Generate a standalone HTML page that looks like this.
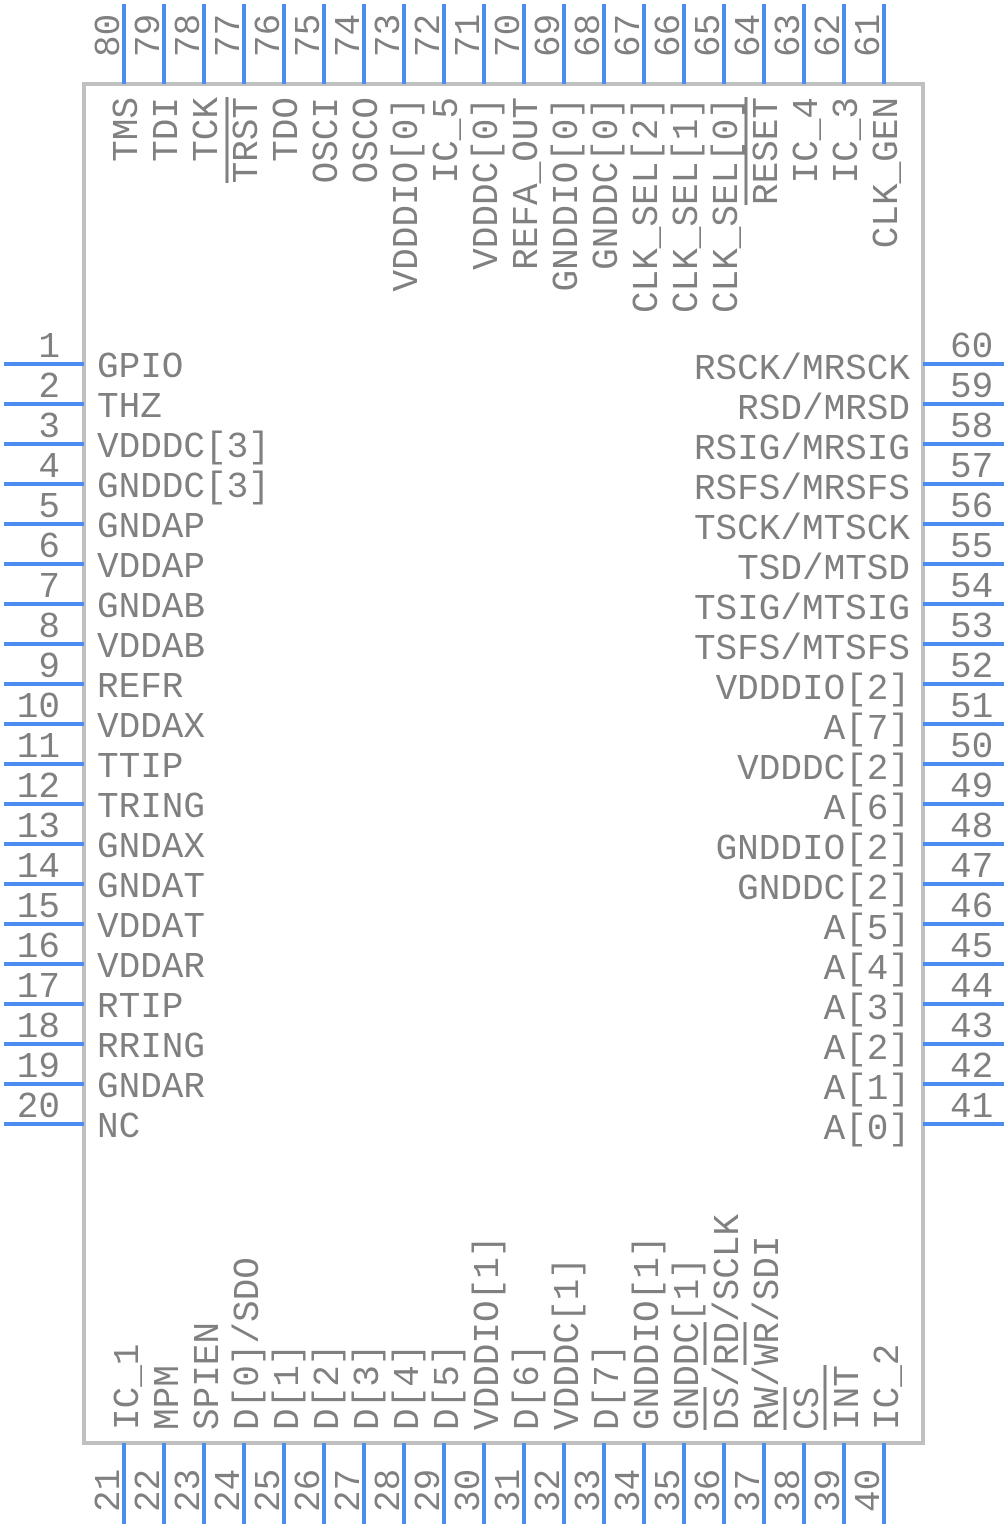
<!DOCTYPE html>
<html><head><meta charset="utf-8"><style>
html,body{margin:0;padding:0;background:#fff}
svg{display:block}
text{font-family:"Liberation Mono",monospace;font-size:36px;fill:#808080}
.p{stroke:#4a8cf0;stroke-width:4}
.ob{stroke:#808080;stroke-width:3}
</style></head><body>
<svg width="1008" height="1528" viewBox="0 0 1008 1528" xmlns="http://www.w3.org/2000/svg">
<rect x="84" y="84" width="839" height="1359" fill="none" stroke="#c0c0c0" stroke-width="4"/>
<g class="p">
<line x1="4" y1="364" x2="84" y2="364"/><line x1="4" y1="404" x2="84" y2="404"/><line x1="4" y1="444" x2="84" y2="444"/><line x1="4" y1="484" x2="84" y2="484"/><line x1="4" y1="524" x2="84" y2="524"/><line x1="4" y1="564" x2="84" y2="564"/><line x1="4" y1="604" x2="84" y2="604"/><line x1="4" y1="644" x2="84" y2="644"/><line x1="4" y1="684" x2="84" y2="684"/><line x1="4" y1="724" x2="84" y2="724"/><line x1="4" y1="764" x2="84" y2="764"/><line x1="4" y1="804" x2="84" y2="804"/><line x1="4" y1="844" x2="84" y2="844"/><line x1="4" y1="884" x2="84" y2="884"/><line x1="4" y1="924" x2="84" y2="924"/><line x1="4" y1="964" x2="84" y2="964"/><line x1="4" y1="1004" x2="84" y2="1004"/><line x1="4" y1="1044" x2="84" y2="1044"/><line x1="4" y1="1084" x2="84" y2="1084"/><line x1="4" y1="1124" x2="84" y2="1124"/>
<line x1="923" y1="364" x2="1004" y2="364"/><line x1="923" y1="404" x2="1004" y2="404"/><line x1="923" y1="444" x2="1004" y2="444"/><line x1="923" y1="484" x2="1004" y2="484"/><line x1="923" y1="524" x2="1004" y2="524"/><line x1="923" y1="564" x2="1004" y2="564"/><line x1="923" y1="604" x2="1004" y2="604"/><line x1="923" y1="644" x2="1004" y2="644"/><line x1="923" y1="684" x2="1004" y2="684"/><line x1="923" y1="724" x2="1004" y2="724"/><line x1="923" y1="764" x2="1004" y2="764"/><line x1="923" y1="804" x2="1004" y2="804"/><line x1="923" y1="844" x2="1004" y2="844"/><line x1="923" y1="884" x2="1004" y2="884"/><line x1="923" y1="924" x2="1004" y2="924"/><line x1="923" y1="964" x2="1004" y2="964"/><line x1="923" y1="1004" x2="1004" y2="1004"/><line x1="923" y1="1044" x2="1004" y2="1044"/><line x1="923" y1="1084" x2="1004" y2="1084"/><line x1="923" y1="1124" x2="1004" y2="1124"/>
<line x1="124" y1="4" x2="124" y2="84"/><line x1="164" y1="4" x2="164" y2="84"/><line x1="204" y1="4" x2="204" y2="84"/><line x1="244" y1="4" x2="244" y2="84"/><line x1="284" y1="4" x2="284" y2="84"/><line x1="324" y1="4" x2="324" y2="84"/><line x1="364" y1="4" x2="364" y2="84"/><line x1="404" y1="4" x2="404" y2="84"/><line x1="444" y1="4" x2="444" y2="84"/><line x1="484" y1="4" x2="484" y2="84"/><line x1="524" y1="4" x2="524" y2="84"/><line x1="564" y1="4" x2="564" y2="84"/><line x1="604" y1="4" x2="604" y2="84"/><line x1="644" y1="4" x2="644" y2="84"/><line x1="684" y1="4" x2="684" y2="84"/><line x1="724" y1="4" x2="724" y2="84"/><line x1="764" y1="4" x2="764" y2="84"/><line x1="804" y1="4" x2="804" y2="84"/><line x1="844" y1="4" x2="844" y2="84"/><line x1="884" y1="4" x2="884" y2="84"/>
<line x1="124" y1="1443" x2="124" y2="1524"/><line x1="164" y1="1443" x2="164" y2="1524"/><line x1="204" y1="1443" x2="204" y2="1524"/><line x1="244" y1="1443" x2="244" y2="1524"/><line x1="284" y1="1443" x2="284" y2="1524"/><line x1="324" y1="1443" x2="324" y2="1524"/><line x1="364" y1="1443" x2="364" y2="1524"/><line x1="404" y1="1443" x2="404" y2="1524"/><line x1="444" y1="1443" x2="444" y2="1524"/><line x1="484" y1="1443" x2="484" y2="1524"/><line x1="524" y1="1443" x2="524" y2="1524"/><line x1="564" y1="1443" x2="564" y2="1524"/><line x1="604" y1="1443" x2="604" y2="1524"/><line x1="644" y1="1443" x2="644" y2="1524"/><line x1="684" y1="1443" x2="684" y2="1524"/><line x1="724" y1="1443" x2="724" y2="1524"/><line x1="764" y1="1443" x2="764" y2="1524"/><line x1="804" y1="1443" x2="804" y2="1524"/><line x1="844" y1="1443" x2="844" y2="1524"/><line x1="884" y1="1443" x2="884" y2="1524"/>
</g>
<g text-anchor="end">
<text x="60" y="357">1</text><text x="60" y="397">2</text><text x="60" y="437">3</text><text x="60" y="477">4</text><text x="60" y="517">5</text><text x="60" y="557">6</text><text x="60" y="597">7</text><text x="60" y="637">8</text><text x="60" y="677">9</text><text x="60" y="717">10</text><text x="60" y="757">11</text><text x="60" y="797">12</text><text x="60" y="837">13</text><text x="60" y="877">14</text><text x="60" y="917">15</text><text x="60" y="957">16</text><text x="60" y="997">17</text><text x="60" y="1037">18</text><text x="60" y="1077">19</text><text x="60" y="1117">20</text>
</g>
<g>
<text x="97" y="377">GPIO</text><text x="97" y="417">THZ</text><text x="97" y="457">VDDDC[3]</text><text x="97" y="497">GNDDC[3]</text><text x="97" y="537">GNDAP</text><text x="97" y="577">VDDAP</text><text x="97" y="617">GNDAB</text><text x="97" y="657">VDDAB</text><text x="97" y="697">REFR</text><text x="97" y="737">VDDAX</text><text x="97" y="777">TTIP</text><text x="97" y="817">TRING</text><text x="97" y="857">GNDAX</text><text x="97" y="897">GNDAT</text><text x="97" y="937">VDDAT</text><text x="97" y="977">VDDAR</text><text x="97" y="1017">RTIP</text><text x="97" y="1057">RRING</text><text x="97" y="1097">GNDAR</text><text x="97" y="1137">NC</text>
</g>
<g>
<text x="950" y="357">60</text><text x="950" y="397">59</text><text x="950" y="437">58</text><text x="950" y="477">57</text><text x="950" y="517">56</text><text x="950" y="557">55</text><text x="950" y="597">54</text><text x="950" y="637">53</text><text x="950" y="677">52</text><text x="950" y="717">51</text><text x="950" y="757">50</text><text x="950" y="797">49</text><text x="950" y="837">48</text><text x="950" y="877">47</text><text x="950" y="917">46</text><text x="950" y="957">45</text><text x="950" y="997">44</text><text x="950" y="1037">43</text><text x="950" y="1077">42</text><text x="950" y="1117">41</text>
</g>
<g text-anchor="end">
<text x="910" y="379">RSCK/MRSCK</text><text x="910" y="419">RSD/MRSD</text><text x="910" y="459">RSIG/MRSIG</text><text x="910" y="499">RSFS/MRSFS</text><text x="910" y="539">TSCK/MTSCK</text><text x="910" y="579">TSD/MTSD</text><text x="910" y="619">TSIG/MTSIG</text><text x="910" y="659">TSFS/MTSFS</text><text x="910" y="699">VDDDIO[2]</text><text x="910" y="739">A[7]</text><text x="910" y="779">VDDDC[2]</text><text x="910" y="819">A[6]</text><text x="910" y="859">GNDDIO[2]</text><text x="910" y="899">GNDDC[2]</text><text x="910" y="939">A[5]</text><text x="910" y="979">A[4]</text><text x="910" y="1019">A[3]</text><text x="910" y="1059">A[2]</text><text x="910" y="1099">A[1]</text><text x="910" y="1139">A[0]</text>
</g>
<g>
<text transform="translate(119,57) rotate(-90)">80</text><text transform="translate(159,57) rotate(-90)">79</text><text transform="translate(199,57) rotate(-90)">78</text><text transform="translate(239,57) rotate(-90)">77</text><text transform="translate(279,57) rotate(-90)">76</text><text transform="translate(319,57) rotate(-90)">75</text><text transform="translate(359,57) rotate(-90)">74</text><text transform="translate(399,57) rotate(-90)">73</text><text transform="translate(439,57) rotate(-90)">72</text><text transform="translate(479,57) rotate(-90)">71</text><text transform="translate(519,57) rotate(-90)">70</text><text transform="translate(559,57) rotate(-90)">69</text><text transform="translate(599,57) rotate(-90)">68</text><text transform="translate(639,57) rotate(-90)">67</text><text transform="translate(679,57) rotate(-90)">66</text><text transform="translate(719,57) rotate(-90)">65</text><text transform="translate(759,57) rotate(-90)">64</text><text transform="translate(799,57) rotate(-90)">63</text><text transform="translate(839,57) rotate(-90)">62</text><text transform="translate(879,57) rotate(-90)">61</text>
</g>
<g text-anchor="end">
<text transform="translate(137,97) rotate(-90)">TMS</text><text transform="translate(177,97) rotate(-90)">TDI</text><text transform="translate(217,97) rotate(-90)">TCK</text><text transform="translate(257,97) rotate(-90)">TRST</text><text transform="translate(297,97) rotate(-90)">TDO</text><text transform="translate(337,97) rotate(-90)">OSCI</text><text transform="translate(377,97) rotate(-90)">OSCO</text><text transform="translate(417,97) rotate(-90)">VDDDIO[0]</text><text transform="translate(457,97) rotate(-90)">IC_5</text><text transform="translate(497,97) rotate(-90)">VDDDC[0]</text><text transform="translate(537,97) rotate(-90)">REFA_OUT</text><text transform="translate(577,97) rotate(-90)">GNDDIO[0]</text><text transform="translate(617,97) rotate(-90)">GNDDC[0]</text><text transform="translate(657,97) rotate(-90)">CLK_SEL[2]</text><text transform="translate(697,97) rotate(-90)">CLK_SEL[1]</text><text transform="translate(737,97) rotate(-90)">CLK_SEL[0]</text><text transform="translate(777,97) rotate(-90)">RESET</text><text transform="translate(817,97) rotate(-90)">IC_4</text><text transform="translate(857,97) rotate(-90)">IC_3</text><text transform="translate(897,97) rotate(-90)">CLK_GEN</text>
</g>
<g>
<text transform="translate(119,1512) rotate(-90)">21</text><text transform="translate(159,1512) rotate(-90)">22</text><text transform="translate(199,1512) rotate(-90)">23</text><text transform="translate(239,1512) rotate(-90)">24</text><text transform="translate(279,1512) rotate(-90)">25</text><text transform="translate(319,1512) rotate(-90)">26</text><text transform="translate(359,1512) rotate(-90)">27</text><text transform="translate(399,1512) rotate(-90)">28</text><text transform="translate(439,1512) rotate(-90)">29</text><text transform="translate(479,1512) rotate(-90)">30</text><text transform="translate(519,1512) rotate(-90)">31</text><text transform="translate(559,1512) rotate(-90)">32</text><text transform="translate(599,1512) rotate(-90)">33</text><text transform="translate(639,1512) rotate(-90)">34</text><text transform="translate(679,1512) rotate(-90)">35</text><text transform="translate(719,1512) rotate(-90)">36</text><text transform="translate(759,1512) rotate(-90)">37</text><text transform="translate(799,1512) rotate(-90)">38</text><text transform="translate(839,1512) rotate(-90)">39</text><text transform="translate(879,1512) rotate(-90)">40</text>
</g>
<g>
<text transform="translate(138,1430) rotate(-90)">IC_1</text><text transform="translate(178,1430) rotate(-90)">MPM</text><text transform="translate(218,1430) rotate(-90)">SPIEN</text><text transform="translate(258,1430) rotate(-90)">D[0]/SDO</text><text transform="translate(298,1430) rotate(-90)">D[1]</text><text transform="translate(338,1430) rotate(-90)">D[2]</text><text transform="translate(378,1430) rotate(-90)">D[3]</text><text transform="translate(418,1430) rotate(-90)">D[4]</text><text transform="translate(458,1430) rotate(-90)">D[5]</text><text transform="translate(498,1430) rotate(-90)">VDDDIO[1]</text><text transform="translate(538,1430) rotate(-90)">D[6]</text><text transform="translate(578,1430) rotate(-90)">VDDDC[1]</text><text transform="translate(618,1430) rotate(-90)">D[7]</text><text transform="translate(658,1430) rotate(-90)">GNDDIO[1]</text><text transform="translate(698,1430) rotate(-90)">GNDDC[1]</text><text transform="translate(738,1430) rotate(-90)">DS/RD/SCLK</text><text transform="translate(778,1430) rotate(-90)">RW/WR/SDI</text><text transform="translate(818,1430) rotate(-90)">CS</text><text transform="translate(858,1430) rotate(-90)">INT</text><text transform="translate(898,1430) rotate(-90)">IC_2</text>
</g>
<g class="ob">
<line x1="227" y1="97" x2="227" y2="183"/>
<line x1="746" y1="97" x2="746" y2="205"/>
<line x1="705" y1="1430" x2="705" y2="1387"/>
<line x1="705" y1="1365" x2="705" y2="1322"/>
<line x1="745" y1="1365" x2="745" y2="1322"/>
<line x1="785" y1="1430" x2="785" y2="1387"/>
<line x1="825" y1="1430" x2="825" y2="1365"/>
</g>
</svg>
</body></html>
